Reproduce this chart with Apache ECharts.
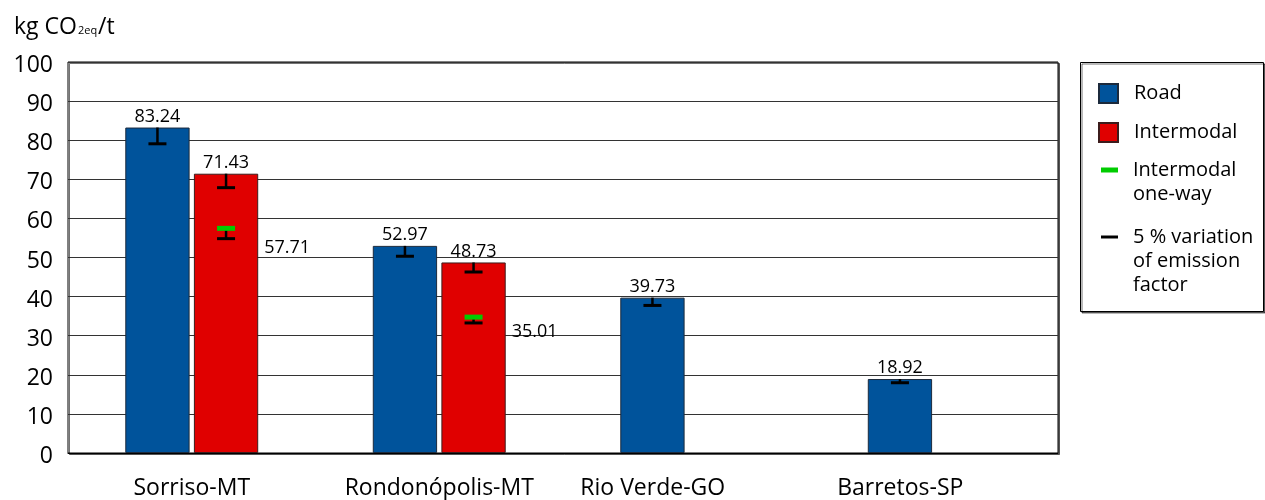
<!DOCTYPE html>
<html><head><meta charset="utf-8">
<script src="https://cdn.jsdelivr.net/npm/echarts@6/dist/echarts.min.js"></script>
<style>html,body{margin:0;padding:0;background:#fff}#chart{width:1265px;height:500px}</style>
</head><body><div id="chart"></div>
<script>
// ---- data ----
const categories = ['Sorriso-MT', 'Rondonópolis-MT', 'Rio Verde-GO', 'Barretos-SP'];
const road = [83.24, 52.97, 39.73, 18.92];
const intermodal = [71.43, 48.73, null, null];
const intermodalOneWay = [57.71, 35.01, null, null];
// lower end of the 5 % variation error bars
const roadLow = [79.08, 50.32, 37.74, 17.97];
const intermodalLow = [67.86, 46.29, null, null];
const oneWayLow = [54.82, 33.26, null, null];
const yMin = 0, yMax = 100, yStep = 10;
const seriesNames = ['Road', 'Intermodal', 'Intermodal one-way', '5 % variation of emission factor'];
const legendLabels = ['Road', 'Intermodal', 'Intermodal\none-way', '5 % variation\nof emission\nfactor'];
const unitParts = ['kg CO', '2eq', '/t'];

// ---- style / layout ----
const FONT = 'Open Sans';
const CAT_GAP = 0.463, BAR_GAP = 0.067;
const BLUE = '#00539b', RED = '#e00000', GREEN = '#00cc00';

function geom(api) {
  const bw = api.size([1, 0])[0];
  const barW = bw * (1 - CAT_GAP) / (2 + BAR_GAP);
  return { barW: barW, offset: barW * (1 + BAR_GAP) / 2 };
}

const errData = [];
const oneWayData = [];
categories.forEach((c, i) => {
  if (road[i] != null) errData.push([i, -1, road[i], roadLow[i]]);
  if (intermodal[i] != null) errData.push([i, 1, intermodal[i], intermodalLow[i]]);
  if (intermodalOneWay[i] != null) {
    errData.push([i, 1, intermodalOneWay[i], oneWayLow[i]]);
    oneWayData.push([i, intermodalOneWay[i], oneWayLow[i]]);
  }
});

const chart = echarts.init(document.getElementById('chart'), null, { renderer: 'canvas' });
// legend text: first line aligned with the icon (pad with leading empty lines)
const legendText = (name) => {
  const lbl = legendLabels[seriesNames.indexOf(name)];
  const n = lbl.split('\n').length;
  return '\n'.repeat(n - 1) + lbl;
};
const legendTextStyle = { fontFamily: FONT, fontSize: 20, color: '#000', lineHeight: 24 };

const option = {
  animation: false,
  backgroundColor: '#fff',
  textStyle: { fontFamily: FONT },
  title: {
    text: '{a|' + unitParts[0] + '}{s|' + unitParts[1] + '}{a|' + unitParts[2] + '}',
    left: 9, top: 4,
    textStyle: {
      fontWeight: 'normal',
      rich: {
        a: { fontFamily: FONT, fontSize: 23, fontWeight: 'normal', color: '#000', verticalAlign: 'bottom', lineHeight: 30 },
        s: { fontFamily: FONT, fontSize: 11, fontWeight: 'normal', color: '#000', verticalAlign: 'bottom', lineHeight: 30, padding: [0, 1, 3, 1] }
      }
    }
  },
  grid: {
    left: 68, right: 207, top: 62, bottom: 46,
    show: true, borderColor: '#000', borderWidth: 1, backgroundColor: '#fff',
    shadowColor: 'rgba(0,0,0,0.55)', shadowOffsetX: 1.5, shadowOffsetY: 1.5, shadowBlur: 0
  },
  graphic: [{
    type: 'rect', left: 1080, top: 62, z: -1,
    shape: { width: 183, height: 249 },
    style: { fill: '#fff', stroke: '#000', lineWidth: 1,
      shadowColor: 'rgba(0,0,0,0.55)', shadowOffsetX: 1.5, shadowOffsetY: 1.5 }
  }],
  legend: [
    {
      data: [seriesNames[0], seriesNames[1]], orient: 'vertical', left: 1098, top: 81.5, padding: 0,
      icon: 'rect', itemWidth: 19, itemHeight: 19, itemGap: 15, selectedMode: false,
      formatter: legendText,
      textStyle: Object.assign({}, legendTextStyle, { padding: [0, 0, 0, 11] })
    },
    {
      data: [seriesNames[2]], orient: 'vertical', left: 1101, top: 134, padding: 0,
      icon: 'rect', itemWidth: 17, itemHeight: 5, selectedMode: false,
      formatter: legendText,
      textStyle: Object.assign({}, legendTextStyle, { padding: [0, 0, 0, 10] })
    },
    {
      data: [seriesNames[3]], orient: 'vertical', left: 1101, top: 177, padding: 0,
      icon: 'rect', itemWidth: 17, itemHeight: 3, selectedMode: false,
      formatter: legendText,
      textStyle: Object.assign({}, legendTextStyle, { padding: [0, 0, 0, 10] })
    }
  ],
  xAxis: {
    type: 'category', data: categories,
    axisTick: { show: false },
    axisLine: { show: true, lineStyle: { color: '#000', width: 1 } },
    axisLabel: {
      interval: 0, margin: 24, fontFamily: FONT, fontSize: 23, color: '#000',
      formatter: (v, idx) => intermodal[idx] == null ? '{s|' + v + '}' : v,
      rich: { s: { fontFamily: FONT, fontSize: 23, color: '#000', padding: [0, 68, 0, 0] } }
    }
  },
  yAxis: {
    type: 'value', min: yMin, max: yMax, interval: yStep,
    axisLine: { show: false }, axisTick: { show: false },
    axisLabel: { margin: 15, fontFamily: FONT, fontSize: 23, color: '#000',
      formatter: v => '{v|' + v + '}',
      rich: { v: { fontFamily: FONT, fontSize: 23, color: '#000', padding: [7, 0, 0, 0] } } },
    splitLine: { lineStyle: { color: '#333', width: 1 } }
  },
  series: [
    {
      name: seriesNames[0], type: 'bar', data: road,
      barCategoryGap: (CAT_GAP * 100) + '%', barGap: (BAR_GAP * 100) + '%',
      itemStyle: { color: BLUE, borderColor: '#1c2a3c', borderWidth: 1 },
      label: { show: true, position: 'top', distance: 2, fontFamily: FONT, fontSize: 18, color: '#000',
        formatter: p => p.value.toFixed(2) },
      z: 2
    },
    {
      name: seriesNames[1], type: 'bar', data: intermodal,
      barCategoryGap: (CAT_GAP * 100) + '%', barGap: (BAR_GAP * 100) + '%',
      itemStyle: { color: RED, borderColor: '#3c1c1c', borderWidth: 1 },
      label: { show: true, position: 'top', distance: 2, fontFamily: FONT, fontSize: 18, color: '#000',
        formatter: p => p.value == null ? '' : p.value.toFixed(2) },
      z: 2
    },
    {
      name: seriesNames[3], type: 'custom', data: errData, encode: { x: 0, y: 2 },
      itemStyle: { color: '#000' }, z: 4,
      renderItem: (params, api) => {
        const cat = api.value(0), slot = api.value(1), v = api.value(2), lo = api.value(3);
        const g = geom(api);
        const t = api.coord([cat, v]), b = api.coord([cat, lo]);
        const x = t[0] + slot * g.offset;
        return { type: 'group', children: [
          { type: 'line', shape: { x1: x, y1: t[1], x2: x, y2: b[1] }, style: { stroke: '#000', lineWidth: 2.5 } },
          { type: 'line', shape: { x1: x - 9, y1: b[1], x2: x + 9, y2: b[1] }, style: { stroke: '#000', lineWidth: 3 } }
        ] };
      }
    },
    {
      name: seriesNames[2], type: 'custom', data: oneWayData, encode: { x: 0, y: 1 },
      itemStyle: { color: GREEN }, z: 5,
      renderItem: (params, api) => {
        const cat = api.value(0), v = api.value(1), lo = api.value(2);
        const g = geom(api);
        const p = api.coord([cat, v]), pl = api.coord([cat, lo]);
        const x = p[0] + g.offset;
        return { type: 'group', children: [
          { type: 'rect', shape: { x: x - 9, y: p[1] - 1.5, width: 18, height: 5 }, style: { fill: GREEN } },
          { type: 'text', style: { text: v.toFixed(2), x: x + g.barW / 2 + 6, y: pl[1] + 9,
              align: 'left', verticalAlign: 'middle', fontFamily: FONT, fontSize: 18, fill: '#000' } }
        ] };
      }
    }
  ]
};
chart.setOption(option);
</script></body></html>
